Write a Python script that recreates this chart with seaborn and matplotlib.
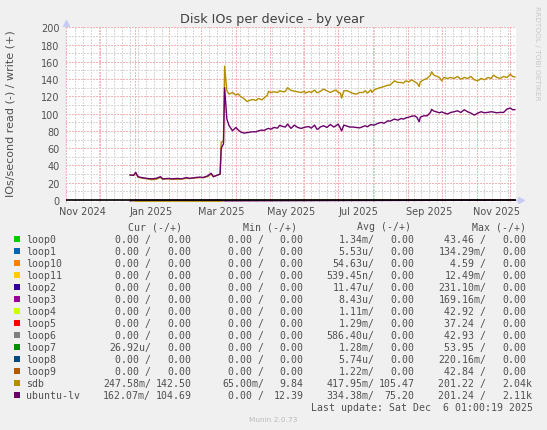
import matplotlib
matplotlib.use('Agg')
import matplotlib.pyplot as plt
import matplotlib.transforms as mtransforms
from matplotlib.patches import Rectangle
import seaborn as sns
import pandas as pd

dates = [
    '2024-12-28', '2024-12-31', '2025-01-02', '2025-01-04', '2025-01-07', '2025-01-12', '2025-01-16',
    '2025-01-20', '2025-01-24', '2025-01-26', '2025-01-31', '2025-02-03', '2025-02-08', '2025-02-12',
    '2025-02-16', '2025-02-19', '2025-02-24', '2025-02-28', '2025-03-03', '2025-03-07', '2025-03-10',
    '2025-03-12', '2025-03-16', '2025-03-18', '2025-03-19', '2025-03-21', '2025-03-22',
    '2025-03-24', '2025-03-26', '2025-03-29', '2025-04-01', '2025-04-03', '2025-04-05', '2025-04-08',
    '2025-04-11', '2025-04-13', '2025-04-16', '2025-04-19', '2025-04-21', '2025-04-24', '2025-04-26',
    '2025-04-29', '2025-04-30', '2025-05-02', '2025-05-05', '2025-05-08', '2025-05-10', '2025-05-13',
    '2025-05-15', '2025-05-17', '2025-05-20', '2025-05-23', '2025-05-26', '2025-05-29', '2025-06-01',
    '2025-06-02', '2025-06-05', '2025-06-07', '2025-06-10', '2025-06-12', '2025-06-13', '2025-06-15',
    '2025-06-18', '2025-06-21', '2025-06-24', '2025-06-27', '2025-06-29', '2025-07-01', '2025-07-03',
    '2025-07-04', '2025-07-06', '2025-07-09', '2025-07-11', '2025-07-14', '2025-07-17', '2025-07-20',
    '2025-07-23', '2025-07-25', '2025-07-27', '2025-07-30', '2025-07-31', '2025-08-02', '2025-08-05',
    '2025-08-08', '2025-08-11', '2025-08-14', '2025-08-16', '2025-08-18', '2025-08-20', '2025-08-23',
    '2025-08-26', '2025-08-28', '2025-08-30', '2025-09-02', '2025-09-04', '2025-09-07', '2025-09-09',
    '2025-09-11', '2025-09-12', '2025-09-15', '2025-09-18', '2025-09-21', '2025-09-22', '2025-09-24',
    '2025-09-27', '2025-09-29', '2025-10-01', '2025-10-03', '2025-10-06', '2025-10-09', '2025-10-12',
    '2025-10-15', '2025-10-18', '2025-10-21', '2025-10-24', '2025-10-27', '2025-10-30', '2025-11-02',
    '2025-11-05', '2025-11-08', '2025-11-11', '2025-11-14', '2025-11-16', '2025-11-19', '2025-11-22',
    '2025-11-25', '2025-11-28', '2025-12-01', '2025-12-03', '2025-12-05',
]
sdb_write = [
    29, 28.5, 31, 26.5, 25.5, 24.5, 23.5, 24, 26, 24, 24.5, 24, 24, 24.5, 25, 25, 25.5, 26, 26, 27,
    30, 27, 29, 30, 67, 68, 155,
    126.5, 122.6, 124.5, 121.5, 123, 120, 117.6, 114, 115.3, 116.4, 115.3, 117.6, 116, 118,
    121.5, 125.7, 124.5, 125.3, 124.5, 126.5, 125.3, 125.7, 130, 126.9, 126, 125.3, 124.5, 125.7,
    123.8, 125.7, 124.5, 127.3, 124.2, 124.5, 125.7, 128.4, 126.5, 124.5, 126.5, 127.3, 124.5, 123.8,
    118, 126.5, 126.5, 125.3, 123.4, 122.6, 124.5, 124.5, 126.5, 123.8, 127.6, 124.5, 127.6, 129.2,
    130.3, 131.5, 133, 133, 135.4, 138, 136.1, 136.1, 135.4, 138, 136.9, 139.2, 136.9, 135.4,
    131.5, 136.9, 139.2, 140.8, 144.6, 148.5, 144.6, 143, 141.9, 138, 141.9, 140.8, 141.9, 140.8,
    143, 140, 141.9, 140.8, 143, 139.2, 138, 140.8, 139.2, 141.9, 140.8, 144.6, 141.9, 140.8,
    143, 141.9, 145.8, 143, 142.5,
]
lv_write = [
    29, 28.5, 32, 27, 26, 25, 24.5, 25, 27, 24.5, 25, 24.5, 25, 24.5, 26, 25, 26, 26.5, 26, 28,
    31, 27, 29, 30, 60, 65, 130,
    93.7, 86, 80.2, 84, 81.3, 79, 77.5, 78, 78.5, 79, 79, 80, 81, 80.5,
    82.5, 82.9, 82, 84, 83.2, 86.5, 85, 84.5, 88, 82.9, 86.7, 84, 82.9, 84,
    84.5, 85, 83.2, 86.7, 82, 82, 84.5, 86, 84, 87.5, 84.5, 86, 87.9, 82.9,
    80, 86.7, 85.5, 84.5, 84.5, 84, 83.5, 85, 86, 84.8, 87.5, 87, 86.7, 88.6,
    89.8, 89, 91.7, 91.3, 92.5, 93.7, 92.5, 94.4, 93.7, 95, 96, 97, 97.5, 95.6,
    90.6, 96, 97.5, 97.5, 101.4, 105, 103, 101.8, 101, 102, 101, 99.5, 101.4, 102.2,
    103.3, 101.4, 104.5, 102.2, 100.6, 98.3, 100.6, 102.2, 101, 101.5, 102.2, 101.8, 101, 101.5,
    101.4, 105.3, 106.5, 104.5, 104.7,
]
# reads are drawn below zero (munin convention)
read_dates = ['2024-12-28', '2025-01-02', '2025-02-10', '2025-03-19', '2025-03-22', '2025-12-05']
sdb_read = [-0.2, -1.4, -1.3, -1.4, -0.2, -0.25]
lv_read = [-1.0, -0.2, -0.2, -0.2, -1.0, -0.16]

label_dates = ['2024-11-16', '2025-01-16', '2025-03-19', '2025-05-20', '2025-07-19', '2025-09-20', '2025-11-19']
label_text = ['Nov 2024', 'Jan 2025', 'Mar 2025', 'May 2025', 'Jul 2025', 'Sep 2025', 'Nov 2025']

names = ['loop0', 'loop1', 'loop10', 'loop11', 'loop2', 'loop3', 'loop4', 'loop5', 'loop6',
         'loop7', 'loop8', 'loop9', 'sdb', 'ubuntu-lv']
colors = ['#00CC00', '#0066B3', '#FF8000', '#FFCC00', '#330099', '#990099', '#CCFF00', '#FF0000',
          '#808080', '#008F00', '#00487D', '#B35A00', '#B38F00', '#6B006B']
cur = [('0.00', '0.00')] * 9 + [('26.92u', '0.00'), ('0.00', '0.00'), ('0.00', '0.00'),
                                ('247.58m', '142.50'), ('162.07m', '104.69')]
mins = [('0.00', '0.00')] * 12 + [('65.00m', '9.84'), ('0.00', '12.39')]
avgs = [('1.34m', '0.00'), ('5.53u', '0.00'), ('54.63u', '0.00'), ('539.45n', '0.00'),
        ('11.47u', '0.00'), ('8.43u', '0.00'), ('1.11m', '0.00'), ('1.29m', '0.00'),
        ('586.40u', '0.00'), ('1.28m', '0.00'), ('5.74u', '0.00'), ('1.22m', '0.00'),
        ('417.95m', '105.47'), ('334.38m', '75.20')]
maxs = [('43.46', '0.00'), ('134.29m', '0.00'), ('4.59', '0.00'), ('12.49m', '0.00'),
        ('231.10m', '0.00'), ('169.16m', '0.00'), ('42.92', '0.00'), ('37.24', '0.00'),
        ('42.93', '0.00'), ('53.95', '0.00'), ('220.16m', '0.00'), ('42.84', '0.00'),
        ('201.22', '2.04k'), ('201.24', '2.11k')]

# ---- layout (pixels) ----
W, H = 547, 431
TXT = '#505050'
RED = '#F6B4B4'
GREY = '#D6D6D6'
AXC = '#C8CCF4'
x0_px, x1_px = 66, 516
ppu = (201 - 28.3) / 200
ylo, yhi = -2.5, 200.4
top_px = 201 - yhi * ppu
bot_px = 201 - ylo * ppu

fig = plt.figure(figsize=(W / 100, H / 100), dpi=100, facecolor='#F0F0F0')
ov = fig.add_axes([0, 0, 1, 1])
ov.set_xlim(0, W)
ov.set_ylim(H, 0)
ov.axis('off')

ax = fig.add_axes([x0_px / W, 1 - bot_px / H, (x1_px - x0_px) / W, (bot_px - top_px) / H])
ax.set_facecolor('white')
for s in ax.spines.values():
    s.set_visible(False)

t0 = pd.Timestamp('2024-11-01 01:00')
t1 = pd.Timestamp('2025-12-06 01:00')
ax.set_xlim(t0, t1)
ax.set_ylim(ylo, yhi)

ax.set_xticks(pd.date_range('2024-11-01', '2025-12-01', freq='MS'))
ax.set_xticks(pd.date_range('2024-11-09', '2025-12-06', freq='7D'), minor=True)
ax.set_yticks(range(0, 201, 20))
ax.set_yticks(range(10, 200, 20), minor=True)
ax.grid(which='major', color=RED, lw=0.72, ls=(0, (1.4, 1.4)), antialiased=False)
ax.grid(which='minor', color=GREY, lw=0.72, ls=(0, (1.4, 1.4)), antialiased=False)
ax.set_axisbelow(True)
ax.tick_params(axis='x', which='both', length=0, labelbottom=False)
ax.tick_params(axis='y', which='both', length=0, pad=4.5, labelsize=7, labelcolor=TXT)
ax.set_xlabel('')
ax.set_ylabel('')

# ---- series ----
wd = pd.to_datetime(dates)
rd = pd.to_datetime(read_dates)
sns.lineplot(x=rd, y=sdb_read, ax=ax, color=colors[12], lw=1.0, estimator=None, clip_on=False)
sns.lineplot(x=rd, y=lv_read, ax=ax, color=colors[13], lw=1.0, estimator=None, clip_on=False)
ax.axhline(0, color='black', lw=1.2, zorder=3)
sns.lineplot(x=wd, y=sdb_write, ax=ax, color=colors[12], lw=1.0, estimator=None, zorder=4)
sns.lineplot(x=wd, y=lv_write, ax=ax, color=colors[13], lw=1.0, estimator=None, zorder=5)

# x labels (centred inside the month, rrdtool style)
tr = mtransforms.blended_transform_factory(ax.transData, ov.transData)
for d, t in zip(pd.to_datetime(label_dates), label_text):
    ax.text(d, 212, t, transform=tr, ha='center', va='center', fontsize=7, color=TXT, clip_on=False)

# axis arrows
ov.plot([x0_px, x0_px], [bot_px, 25], color=AXC, lw=1.0)
ov.plot([x0_px], [23.5], marker='^', ms=4.5, color=AXC, mec=AXC)
ov.plot([x1_px, 519], [201, 201], color=AXC, lw=1.0)
ov.plot([520.5], [201], marker='>', ms=4.5, color=AXC, mec=AXC)

# titles
ov.text(272.5, 19.5, 'Disk IOs per device - by year', ha='center', va='center', fontsize=9.2, color='#404040')
ov.text(10.5, 114, 'IOs/second read (-) / write (+)', ha='center', va='center', rotation=90,
        fontsize=8, color=TXT)
ov.text(537.5, 53, 'RRDTOOL / TOBI OETIKER', ha='center', va='center', rotation=270,
        fontsize=5.3, color='#C8C8C8')

# ---- legend ----
mono = 'DejaVu Sans Mono'
fs = 7.15
cw = 5.98
row0, step = 240, 11.98
for txt, r in zip(['Cur (-/+)', 'Min (-/+)', 'Avg (-/+)', 'Max (-/+)'], [182.1, 297.3, 411.0, 526.2]):
    ov.text(r, 227.3, txt, ha='right', va='center', family=mono, fontsize=fs, color=TXT)

cols = [(cur, 150.9, 191.5), (mins, 264.1, 303.6), (avgs, 374.4, 414.5), (maxs, 486.5, 526.5)]
for i, (n, c) in enumerate(zip(names, colors)):
    y = row0 + i * step
    ov.add_patch(Rectangle((14, y - 2.7), 5.5, 5.5, color=c, lw=0))
    ov.text(26.2, y, n, ha='left', va='center', family=mono, fontsize=fs, color=TXT)
    for vals, r1, r2 in cols:
        a, b = vals[i]
        first = a + ('/' if a[-1].isalpha() else ' /')
        ov.text(r1, y, first, ha='right', va='center', family=mono, fontsize=fs, color=TXT)
        rr = r2 + cw if b[-1].isalpha() else r2
        ov.text(rr, y, b, ha='right', va='center', family=mono, fontsize=fs, color=TXT)

ov.text(532.8, 407.7, 'Last update: Sat Dec  6 01:00:19 2025', ha='right', va='center',
        family=mono, fontsize=fs, color=TXT)
ov.text(273, 420, 'Munin 2.0.73', ha='center', va='center', fontsize=5.3, color='#BBBBBB')

fig.savefig('out.png', dpi=100, facecolor=fig.get_facecolor())
